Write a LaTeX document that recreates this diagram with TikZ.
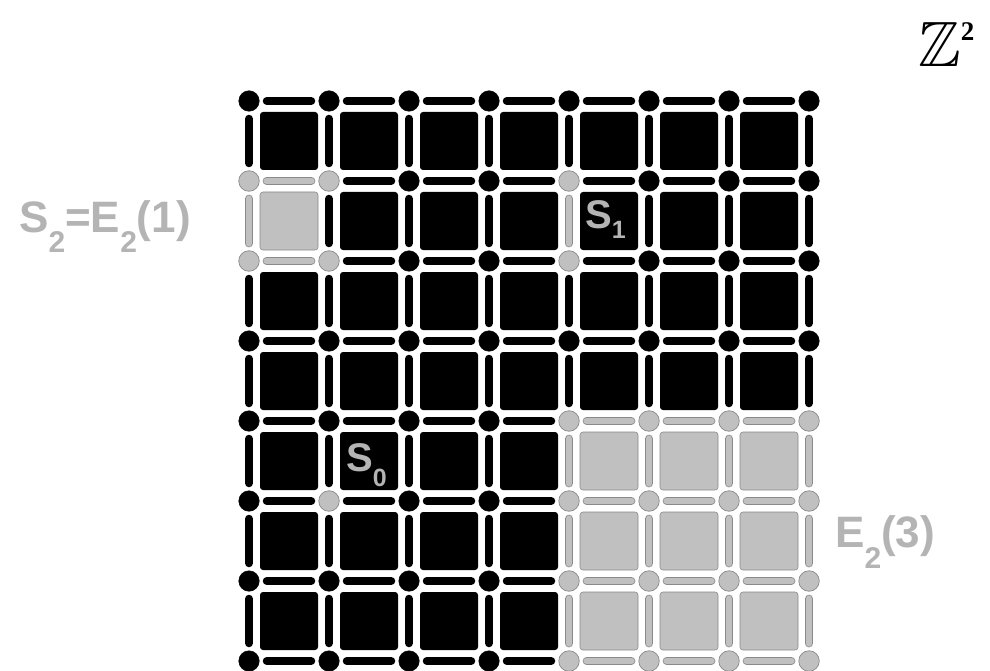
\documentclass[tikz,border=0pt]{standalone}
\usepackage{fontspec}
\usepackage{amssymb}
\setmainfont{Liberation Sans}
\newfontfamily\serifZ{Liberation Serif}
\definecolor{lg}{HTML}{C0C0C0}
\definecolor{dg}{HTML}{8A8A8A}
\definecolor{lbl}{HTML}{B4B4B4}
\newcommand{\lsub}[3]{\raisebox{-#1pt}{\fontsize{#2}{#2}\selectfont #3}}
\begin{document}
\begin{tikzpicture}[x=1pt,y=-1pt,
  vtx/.style={circle, inner sep=0pt, outer sep=0pt, minimum size=20.5pt, fill=black, draw=black, line width=0.5pt},
  gvtx/.style={vtx, fill=lg, draw=dg, line width=0.7pt},
  cellb/.style={rectangle, rounded corners=3pt, minimum size=58pt, inner sep=0pt, outer sep=0pt, fill=black},
  cellg/.style={cellb, fill=lg, draw=dg, line width=0.6pt},
  edgeb/.style={draw=black, line width=8pt, line cap=round, shorten <=7.5pt, shorten >=7.5pt},
  edgeg/.style={draw=dg, line width=0.7pt, double=lg, double distance=6.8pt, line cap=round, shorten <=7.5pt, shorten >=7.5pt},
  lab/.style={inner sep=0pt, anchor=base west, text=lbl, font=\fontsize{44}{44}\selectfont\bfseries},
  slab/.style={inner sep=0pt, anchor=base west, text=lbl, font=\fontsize{40}{40}\selectfont\bfseries}]
\useasboundingbox (0,0) rectangle (990,671);
\fill[white] (0,0) rectangle (990,671);
% cells
\foreach \i in {0,...,6} {
  \foreach \j in {0,...,6} {
    \pgfmathtruncatemacro\g{((\i>=4) && (\j>=4)) || ((\i==0) && (\j==1))}
    \ifnum\g=1 \def\st{cellg}\else\def\st{cellb}\fi
    \node[\st] (c-\i-\j) at ({289+80*\i},{141+80*\j}) {};
  }
}
% vertices
\foreach \i in {0,...,7} {
  \foreach \j in {0,...,7} {
    \pgfmathtruncatemacro\g{((\i>=4) && (\j>=4)) || ((\i<=1) && ((\j==1) || (\j==2))) || ((\i==4) && ((\j==1) || (\j==2))) || ((\i==1) && (\j==5))}
    \ifnum\g=1 \def\st{gvtx}\else\def\st{vtx}\fi
    \node[\st] (v-\i-\j) at ({249+80*\i},{101+80*\j}) {};
  }
}
% horizontal edges
\foreach \i in {0,...,6} {
  \foreach \j in {0,...,7} {
    \pgfmathtruncatemacro\ni{\i+1}
    \pgfmathtruncatemacro\g{((\i>=4) && (\j>=4)) || ((\i==0) && ((\j==1) || (\j==2)))}
    \ifnum\g=1 \def\st{edgeg}\else\def\st{edgeb}\fi
    \draw[\st] (v-\i-\j) -- (v-\ni-\j);
  }
}
% vertical edges
\foreach \i in {0,...,7} {
  \foreach \j in {0,...,6} {
    \pgfmathtruncatemacro\nj{\j+1}
    \pgfmathtruncatemacro\g{((\i>=4) && (\j>=4)) || ((\i==0) && (\j==1)) || ((\i==4) && (\j==1))}
    \ifnum\g=1 \def\st{edgeg}\else\def\st{edgeb}\fi
    \draw[\st] (v-\i-\j) -- (v-\i-\nj);
  }
}
% labels
\node[lab] (s2) at (19,233) {S\lsub{20}{30}{2}=E\lsub{20}{30}{2}(1)};
\node[lab] (e3) at (835,547) {E\lsub{21}{30}{2}(3)};
\node[slab] (s1) at (585,228) {S\lsub{10}{25}{1}};
\node[slab] (s0) at (346,471) {S\lsub{15}{25}{0}};
\node[inner sep=0pt, anchor=base west] (z2) at (918,67) {\fontsize{64}{64}\selectfont$\mathbb{Z}$\raisebox{26pt}{\fontsize{27}{27}\selectfont\serifZ\bfseries 2}};
\end{tikzpicture}
\end{document}
